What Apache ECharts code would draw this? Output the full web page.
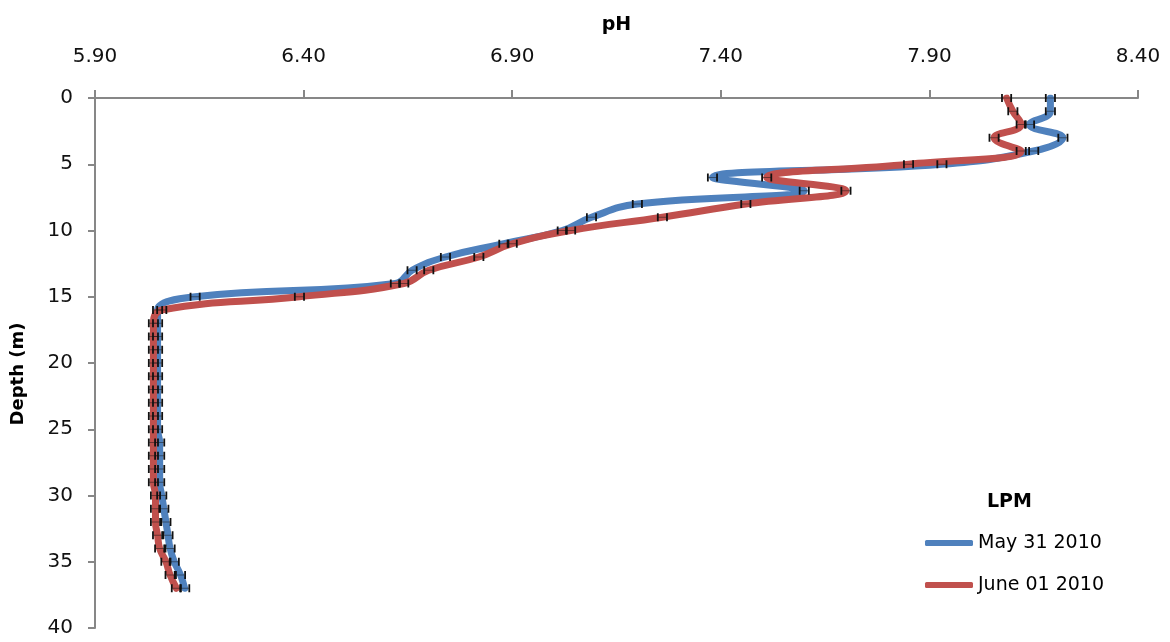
<!DOCTYPE html>
<html>
<head>
<meta charset="utf-8">
<script src="https://cdn.jsdelivr.net/npm/echarts@6/dist/echarts.min.js"></script>
<style>
html,body{margin:0;padding:0;background:#fff;}
#chart{width:1170px;height:642px;}
</style>
</head>
<body>
<div id="chart"></div>
<script>
// ---- data ----
const depths = [0,1,2,3,4,5,6,7,8,9,10,11,12,13,14,15,16,17,18,19,20,21,22,23,24,25,26,27,28,29,30,31,32,33,34,35,36,37];
const phMay31 = [8.19,8.19,8.14,8.22,8.15,7.93,7.38,7.60,7.20,7.09,7.02,6.88,6.74,6.66,6.62,6.14,6.05,6.05,6.05,6.05,6.05,6.05,6.05,6.05,6.05,6.05,6.055,6.055,6.055,6.055,6.06,6.065,6.07,6.075,6.08,6.09,6.105,6.115];
const phJun01 = [8.085,8.10,8.12,8.055,8.12,7.85,7.51,7.70,7.46,7.26,7.04,6.90,6.82,6.70,6.64,6.39,6.06,6.04,6.04,6.04,6.04,6.04,6.04,6.04,6.04,6.04,6.04,6.04,6.04,6.04,6.045,6.045,6.045,6.05,6.055,6.07,6.08,6.095];
const errMay31 = [0.011,0.011,0.011,0.011,0.011,0.011,0.011,0.011,0.011,0.011,0.011,0.011,0.011,0.011,0.011,0.011,0.011,0.011,0.011,0.011,0.011,0.011,0.011,0.011,0.011,0.011,0.011,0.011,0.011,0.011,0.011,0.011,0.011,0.011,0.011,0.011,0.011,0.011];
const errJun01 = [0.011,0.011,0.011,0.011,0.011,0.011,0.011,0.011,0.011,0.011,0.011,0.011,0.011,0.011,0.011,0.011,0.011,0.011,0.011,0.011,0.011,0.011,0.011,0.011,0.011,0.011,0.011,0.011,0.011,0.011,0.011,0.011,0.011,0.011,0.011,0.011,0.011,0.011];
const phTicks = [5.90, 6.40, 6.90, 7.40, 7.90, 8.40];
const depthTicks = [0,5,10,15,20,25,30,35,40];
const seriesNames = ['May 31 2010', 'June 01 2010'];
const legendTitle = 'LPM';

// ---- chart ----
const FONT = "'DejaVu Sans', sans-serif";
const AXIS_COLOR = '#878787';
const chart = echarts.init(document.getElementById('chart'));

function pairs(ph, dep) { return ph.map((v, i) => [v, dep[i]]); }
function triples(ph, dep, err) { return ph.map((v, i) => [v, dep[i], err[i]]); }

function renderErr(params, api) {
  const x = api.value(0), y = api.value(1), e = api.value(2);
  const p1 = api.coord([x - e, y]);
  const p2 = api.coord([x + e, y]);
  const h = 4;
  const st = {stroke: '#111', lineWidth: 1.8};
  return {
    type: 'group',
    children: [
      {type: 'line', shape: {x1: p1[0], y1: p1[1], x2: p2[0], y2: p2[1]}, style: {stroke: '#111', lineWidth: 0.8, opacity: 0.6}},
      {type: 'line', shape: {x1: p1[0], y1: p1[1] - h, x2: p1[0], y2: p1[1] + h}, style: st},
      {type: 'line', shape: {x1: p2[0], y1: p2[1] - h, x2: p2[0], y2: p2[1] + h}, style: st}
    ]
  };
}

const option = {
  backgroundColor: '#fff',
  animation: false,
  textStyle: {fontFamily: FONT},
  title: {
    text: legendTitle,
    left: 982, top: 488,
    textStyle: {fontFamily: FONT, fontSize: 19, fontWeight: 'bold', color: '#000'}
  },
  legend: {
    data: seriesNames,
    orient: 'vertical',
    left: 920, top: 528,
    itemWidth: 48, itemHeight: 6,
    itemGap: 22,
    icon: 'roundRect',
    textStyle: {fontFamily: FONT, fontSize: 19, color: '#000', lineHeight: 20}
  },
  grid: {left: 95, right: 32, top: 98, bottom: 14, containLabel: false},
  xAxis: {
    type: 'value',
    position: 'top',
    min: 5.9, max: 8.4,
    name: 'pH',
    nameLocation: 'middle',
    nameGap: 63,
    nameTextStyle: {fontFamily: FONT, fontSize: 19, fontWeight: 'bold', color: '#000'},
    axisLine: {show: true, lineStyle: {color: AXIS_COLOR, width: 2}},
    axisTick: {show: true, customValues: phTicks, length: 8, lineStyle: {color: AXIS_COLOR, width: 2}},
    axisLabel: {customValues: phTicks, margin: 31, formatter: v => v.toFixed(2), fontFamily: FONT, fontSize: 20, color: '#111'},
    splitLine: {show: false}
  },
  yAxis: {
    type: 'value',
    inverse: true,
    min: 0, max: 40, interval: 5,
    name: 'Depth (m)',
    nameLocation: 'middle',
    nameGap: 68,
    nameRotate: 90,
    nameTextStyle: {fontFamily: FONT, fontSize: 18, fontWeight: 'bold', color: '#000', padding: [0, 22, 0, 0]},
    axisLine: {show: true, lineStyle: {color: AXIS_COLOR, width: 2}},
    axisTick: {show: true, length: 7, lineStyle: {color: AXIS_COLOR, width: 2}},
    axisLabel: {customValues: depthTicks, margin: 22, fontFamily: FONT, fontSize: 20, color: '#111'},
    splitLine: {show: false}
  },
  series: [
    {
      name: seriesNames[0], type: 'line', data: pairs(phMay31, depths),
      smooth: 0.45, symbol: 'none', color: '#4F81BD',
      lineStyle: {width: 7, color: '#4F81BD', cap: 'round', join: 'round'}, z: 2
    },
    {
      name: seriesNames[1], type: 'line', data: pairs(phJun01, depths),
      smooth: 0.45, symbol: 'none', color: '#C0504D',
      lineStyle: {width: 7, color: '#C0504D', cap: 'round', join: 'round'}, z: 3
    },
    {
      name: 'errMay31', type: 'custom', renderItem: renderErr,
      data: triples(phMay31, depths, errMay31), encode: {x: 0, y: 1}, z: 5, silent: true
    },
    {
      name: 'errJun01', type: 'custom', renderItem: renderErr,
      data: triples(phJun01, depths, errJun01), encode: {x: 0, y: 1}, z: 5, silent: true
    }
  ]
};
chart.setOption(option);
</script>
</body>
</html>
